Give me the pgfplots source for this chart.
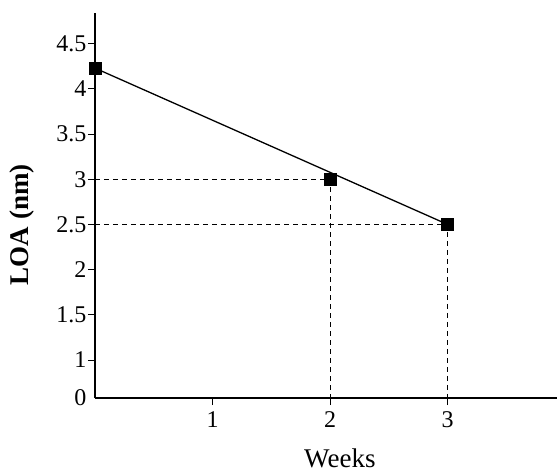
\documentclass[border=0pt]{standalone}
\usepackage{fontspec}
\setmainfont{Liberation Serif}
\usepackage{pgfplots}
\pgfplotsset{compat=1.18}
\begin{document}
\begin{tikzpicture}
\begin{axis}[
    scale only axis,
    width=462pt, height=385pt,
    xmin=0, xmax=3.93,
    ymin=0.58, ymax=4.84,
    clip=false,
    axis lines=left,
    axis line style={-, line width=1.3pt},
    xtick={1,2,3},
    ytick={1,1.5,2,2.5,3,3.5,4,4.5},
    extra y ticks={0.58},
    extra y tick labels={0},
    extra y tick style={major tick length=0pt, yticklabel style={xshift=-7pt}},
    tick align=outside,
    major tick length=7pt,
    tick style={black, line width=0.9pt},
    /pgf/number format/assume math mode=true,
    ticklabel style={font=\fontsize{24}{28}\selectfont},
    yticklabel style={xshift=2pt},
    xticklabel style={yshift=-3pt},
    xlabel={Weeks},
    ylabel={\bfseries LOA (nm)},
    label style={font=\fontsize{27}{32}\selectfont},
    xlabel style={at={(axis description cs:0.53,-0.158)}, anchor=center, inner sep=0pt},
    ylabel style={at={(axis description cs:-0.158,0.45)}, anchor=center},
]
\addplot[black, line width=1.3pt] coordinates {(0,4.23) (3,2.5)};
\addplot[black, line width=0.8pt, dash pattern=on 5pt off 4pt] coordinates {(0,3.0) (2,3.0) (2,0.58)};
\addplot[black, line width=0.8pt, dash pattern=on 5pt off 4pt] coordinates {(0,2.5) (3,2.5) (3,0.58)};
\addplot[black, only marks, mark=square*, mark size=6pt] coordinates {(0,4.23) (2,3.0) (3,2.5)};
\end{axis}
\pgfresetboundingbox
\path[use as bounding box] (current axis.south west) ++(-95pt,-76pt) rectangle ++(557pt,474pt);
\end{tikzpicture}
\end{document}
